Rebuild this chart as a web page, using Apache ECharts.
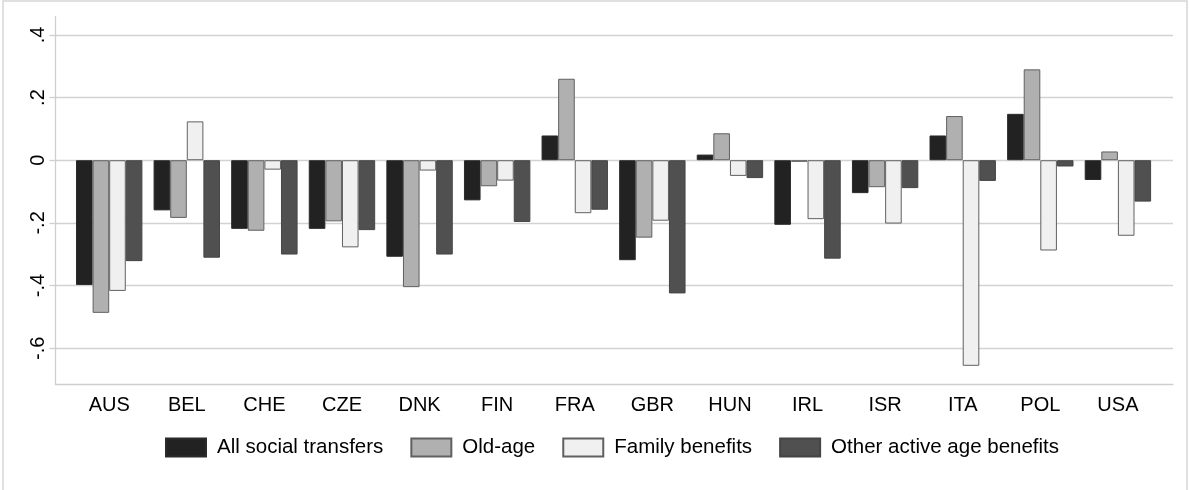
<!DOCTYPE html>
<html>
<head>
<meta charset="utf-8">
<script src="https://cdn.jsdelivr.net/npm/echarts@6/dist/echarts.min.js"></script>
<style>
html,body{margin:0;padding:0;background:#fff;}
#chart{width:1189px;height:490px;}
</style>
</head>
<body>
<div id="chart"></div>
<script>
const categories = ['AUS','BEL','CHE','CZE','DNK','FIN','FRA','GBR','HUN','IRL','ISR','ITA','POL','USA'];
const allSocial = [-0.398,-0.160,-0.219,-0.219,-0.308,-0.128,0.079,-0.319,0.018,-0.206,-0.105,0.079,0.148,-0.063];
const oldAge    = [-0.487,-0.184,-0.225,-0.195,-0.405,-0.083,0.260,-0.247,0.086,-0.005,-0.086,0.141,0.290,0.028];
const family    = [-0.417,0.124,-0.030,-0.278,-0.033,-0.065,-0.169,-0.193,-0.050,-0.188,-0.202,-0.656,-0.288,-0.241];
const otherActive = [-0.322,-0.311,-0.301,-0.223,-0.301,-0.197,-0.158,-0.425,-0.057,-0.314,-0.089,-0.066,-0.020,-0.132];
const yTicks = [-0.6,-0.4,-0.2,0,0.2,0.4];
const seriesNames = ['All social transfers','Old-age','Family benefits','Other active age benefits'];

const FONT = "'Liberation Sans', Arial, sans-serif";
const Y_MIN = -0.715, Y_MAX = 0.458;
const fills = ['#222222','#b0b0b0','#f0f0f0','#505050'];
const borders = ['#2a2a2a','#606060','#606060','#454545'];
const values = [allSocial, oldAge, family, otherActive];

const chart = echarts.init(document.getElementById('chart'), null, {renderer:'canvas'});
const option = {
  backgroundColor:'#ffffff',
  animation:false,
  graphic:[{type:'rect', shape:{x:3, y:1, width:1184, height:495}, style:{fill:'none', stroke:'#d6d6d6', lineWidth:1.5}, silent:true, z:-10}],
  grid:[
    {left:55.5, right:1189-1173, top:16.7, bottom:105.7},
    {left:70.4, right:1189-1156.7, top:16.7, bottom:105.7}
  ],
  legend:{
    data:seriesNames, left:160, top:432, icon:'rect', itemWidth:40, itemHeight:18, itemGap:27,
    textStyle:{fontFamily:FONT, fontSize:20.5, color:'#000', padding:[0,0,0,6]}
  },
  xAxis:[
    {gridIndex:0, type:'value', min:0, max:1, axisLine:{show:true, onZero:false, lineStyle:{color:'#cfcfcf', width:1.3}},
     axisTick:{show:false}, axisLabel:{show:false}, splitLine:{show:false}},
    {gridIndex:1, type:'category', data:categories, axisLine:{show:false}, axisTick:{show:false},
     axisLabel:{fontFamily:FONT, fontSize:20, color:'#000', margin:11}, splitLine:{show:false}}
  ],
  yAxis:[
    {gridIndex:0, type:'value', min:Y_MIN, max:Y_MAX,
     axisLine:{show:true, onZero:false, lineStyle:{color:'#cfcfcf', width:1.3}},
     axisTick:{show:true, length:6, customValues:yTicks, lineStyle:{color:'#cfcfcf', width:1.3}},
     axisLabel:{customValues:yTicks, rotate:90, fontFamily:FONT, fontSize:20, color:'#000', margin:7,
       formatter:function(v){ if (Math.abs(v)<1e-9) return '0'; return v.toFixed(1).replace('0.','.'); }},
     splitLine:{show:true, lineStyle:{color:'#d2d2d2', width:1.3}}},
    {gridIndex:1, type:'value', min:Y_MIN, max:Y_MAX, show:false, splitLine:{show:false}}
  ],
  series: seriesNames.map(function(name,i){
    return {
      name:name, type:'bar', xAxisIndex:1, yAxisIndex:1, data:values[i],
      barWidth:16.6, barGap:'0%',
      itemStyle:{color:fills[i], borderColor:borders[i], borderWidth:1},
      emphasis:{disabled:true}
    };
  })
};
chart.setOption(option);
</script>
</body>
</html>
